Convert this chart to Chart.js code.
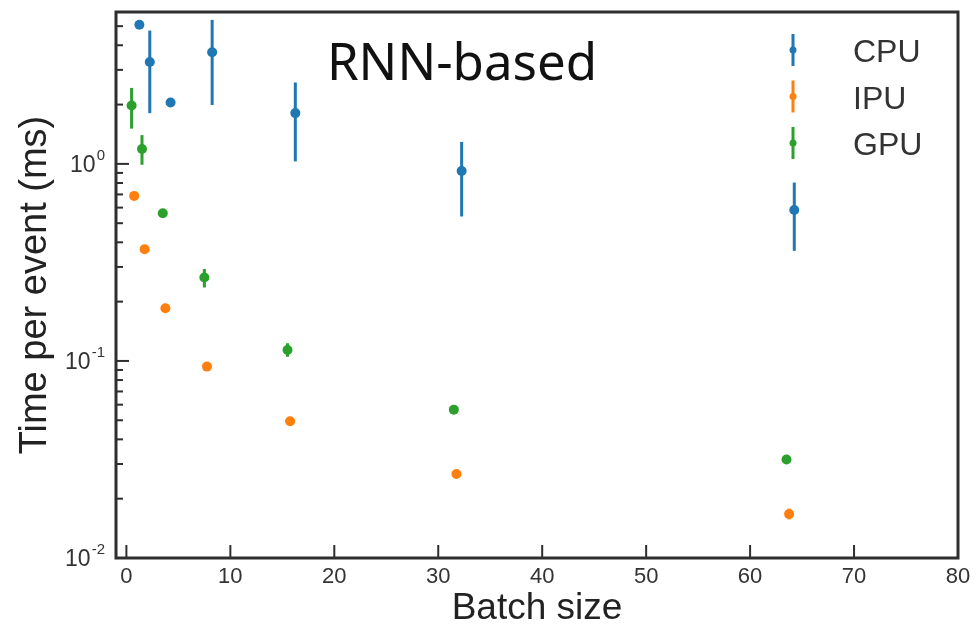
<!DOCTYPE html>
<html>
<head>
<meta charset="utf-8">
<script src="https://cdn.jsdelivr.net/npm/chart.js@4.4.1/dist/chart.umd.min.js"></script>
<style>
html, body { margin: 0; padding: 0; background: #fff; }
#wrap { width: 978px; height: 627px; }
</style>
</head>
<body>
<div id="wrap"><canvas id="timeChart"></canvas></div>
<script>
// batch size positions (each device is shifted a little so the bars don't overlap)
let cpuX = [1.25, 2.25, 4.25, 8.25, 16.25, 32.25, 64.25];
let ipuX = [0.75, 1.75, 3.75, 7.75, 15.75, 31.75, 63.75];
let gpuX = [0.5, 1.5, 3.5, 7.5, 15.5, 31.5, 63.5];

// time per event (ms) and error bar ends
let cpuTime = [5.08, 3.29, 2.05, 3.69, 1.81, 0.921, 0.584];
let cpuLow  = [null, 1.81, null, 1.99, 1.03, 0.541, 0.362];
let cpuHigh = [null, 4.75, null, 5.38, 2.59, 1.293, 0.804];

let ipuTime = [0.688, 0.369, 0.185, 0.0936, 0.0494, 0.0267, 0.0167];
let ipuLow  = [null, null, null, null, null, null, 0.0157];
let ipuHigh = [null, null, null, null, null, null, 0.0178];

let gpuTime = [1.98, 1.19, 0.562, 0.265, 0.1137, 0.0566, 0.0316];
let gpuLow  = [1.51, 0.99, null, 0.236, 0.105, null, null];
let gpuHigh = [2.43, 1.40, null, 0.293, 0.123, null, null];

let xTicks = [0, 10, 20, 30, 40, 50, 60, 70, 80];
let yMajorTicks = [0.01, 0.1, 1];
let yTickExp = ['-2', '-1', '0'];

let labels = ['CPU', 'IPU', 'GPU'];
let colors = ['#1f77b4', '#ff7f0e', '#2ca02c'];

const FONT = 'Liberation Sans, Arial, sans-serif';
const AXIS = '#2e2e2e';

function pts(xs, ys) {
    return xs.map((x, i) => ({x: x, y: ys[i]}));
}

let errorBars = {
    id: 'errorBars',
    beforeDatasetsDraw(chart) {
        let ctx = chart.ctx;
        let xs = chart.scales.x, ys = chart.scales.y;
        chart.data.datasets.forEach(ds => {
            ctx.save();
            ctx.strokeStyle = ds.backgroundColor;
            ctx.lineWidth = 3;
            ds.data.forEach((p, i) => {
                if (ds.errLow[i] == null) return;
                let px = xs.getPixelForValue(p.x);
                ctx.beginPath();
                ctx.moveTo(px, ys.getPixelForValue(ds.errLow[i]));
                ctx.lineTo(px, ys.getPixelForValue(ds.errHigh[i]));
                ctx.stroke();
            });
            ctx.restore();
        });
    },
    afterDraw(chart) {
        let ctx = chart.ctx;
        let a = chart.chartArea;
        let xs = chart.scales.x, ys = chart.scales.y;
        ctx.save();

        // inward tick marks
        ctx.strokeStyle = AXIS;
        ctx.lineWidth = 2;
        xs.ticks.forEach(t => {
            let px = xs.getPixelForValue(t.value);
            ctx.beginPath();
            ctx.moveTo(px, a.bottom);
            ctx.lineTo(px, a.bottom - 13);
            ctx.stroke();
        });
        ys.ticks.forEach(t => {
            let py = ys.getPixelForValue(t.value);
            ctx.beginPath();
            ctx.moveTo(a.left, py);
            ctx.lineTo(a.left + (t.major ? 13 : 7), py);
            ctx.stroke();
        });

        // frame
        ctx.lineWidth = 3;
        ctx.strokeRect(a.left, a.top, a.right - a.left, a.bottom - a.top);

        // y tick labels with superscript exponent
        ctx.fillStyle = '#333';
        ctx.textBaseline = 'alphabetic';
        yMajorTicks.forEach((v, i) => {
            let py = ys.getPixelForValue(v);
            let right = a.left - 11;
            ctx.font = '15px ' + FONT;
            let ws = ctx.measureText(yTickExp[i]).width;
            ctx.textAlign = 'left';
            ctx.fillText(yTickExp[i], right - ws, py - 4);
            ctx.font = '23px ' + FONT;
            ctx.textAlign = 'right';
            ctx.fillText('10', right - ws - 1, py + 8);
        });

        // panel label
        ctx.fillStyle = '#111';
        ctx.font = '51px "Noto Sans"';
        ctx.textAlign = 'center';
        ctx.fillText('RNN-based', a.left + 346, a.top + 68);

        // legend
        ctx.font = '32px ' + FONT;
        ctx.textAlign = 'left';
        labels.forEach((lab, i) => {
            let cy = a.top + 38 + i * 46.5;
            let mx = a.right - 165;
            ctx.strokeStyle = colors[i];
            ctx.fillStyle = colors[i];
            ctx.lineWidth = 3;
            ctx.beginPath();
            ctx.moveTo(mx, cy - 16);
            ctx.lineTo(mx, cy + 16);
            ctx.stroke();
            ctx.beginPath();
            ctx.arc(mx, cy, 3.5, 0, Math.PI * 2);
            ctx.fill();
            ctx.fillStyle = '#333';
            ctx.fillText(lab, a.right - 105, cy + 12);
        });
        ctx.restore();
    }
};

let chart = document.getElementById('timeChart');
let timeChart = new Chart(chart, {
    type: 'scatter',
    data: {
        datasets: [
            {label: labels[0], data: pts(cpuX, cpuTime), errLow: cpuLow, errHigh: cpuHigh,
             backgroundColor: colors[0], borderColor: colors[0]},
            {label: labels[1], data: pts(ipuX, ipuTime), errLow: ipuLow, errHigh: ipuHigh,
             backgroundColor: colors[1], borderColor: colors[1]},
            {label: labels[2], data: pts(gpuX, gpuTime), errLow: gpuLow, errHigh: gpuHigh,
             backgroundColor: colors[2], borderColor: colors[2]}
        ]
    },
    options: {
        responsive: true,
        maintainAspectRatio: false,
        devicePixelRatio: 1,
        animation: false,
        events: [],
        elements: {point: {radius: 5, borderWidth: 0}},
        layout: {padding: {left: 13, right: 20, top: 12, bottom: 0}},
        plugins: {legend: {display: false}, tooltip: {enabled: false}},
        scales: {
            x: {
                type: 'linear', min: -1, max: 80,
                afterBuildTicks: s => { s.ticks = xTicks.map(v => ({value: v})); },
                grid: {display: false, drawTicks: false},
                border: {display: false},
                ticks: {font: {family: FONT, size: 22}, color: '#333', padding: 6, maxRotation: 0, autoSkip: false},
                title: {display: true, text: 'Batch size', font: {family: FONT, size: 37, lineHeight: 1.0}, color: '#222', padding: 0},
                afterFit: s => { s.height = 69; }
            },
            y: {
                type: 'logarithmic', min: 0.01, max: 5.9,
                afterBuildTicks: s => {
                    let t = [];
                    yMajorTicks.forEach(d => {
                        for (let m = 1; m <= 9; m++) {
                            let v = d * m;
                            if (v <= s.max) t.push({value: v, major: m === 1});
                        }
                    });
                    s.ticks = t;
                },
                grid: {display: false, drawTicks: false},
                border: {display: false},
                ticks: {display: false},
                title: {display: true, text: 'Time per event (ms)', font: {family: FONT, size: 38, lineHeight: 1.2}, color: '#222', padding: 0},
                afterFit: s => { s.width = 103; }
            }
        }
    },
    plugins: [errorBars]
});
</script>
</body>
</html>
